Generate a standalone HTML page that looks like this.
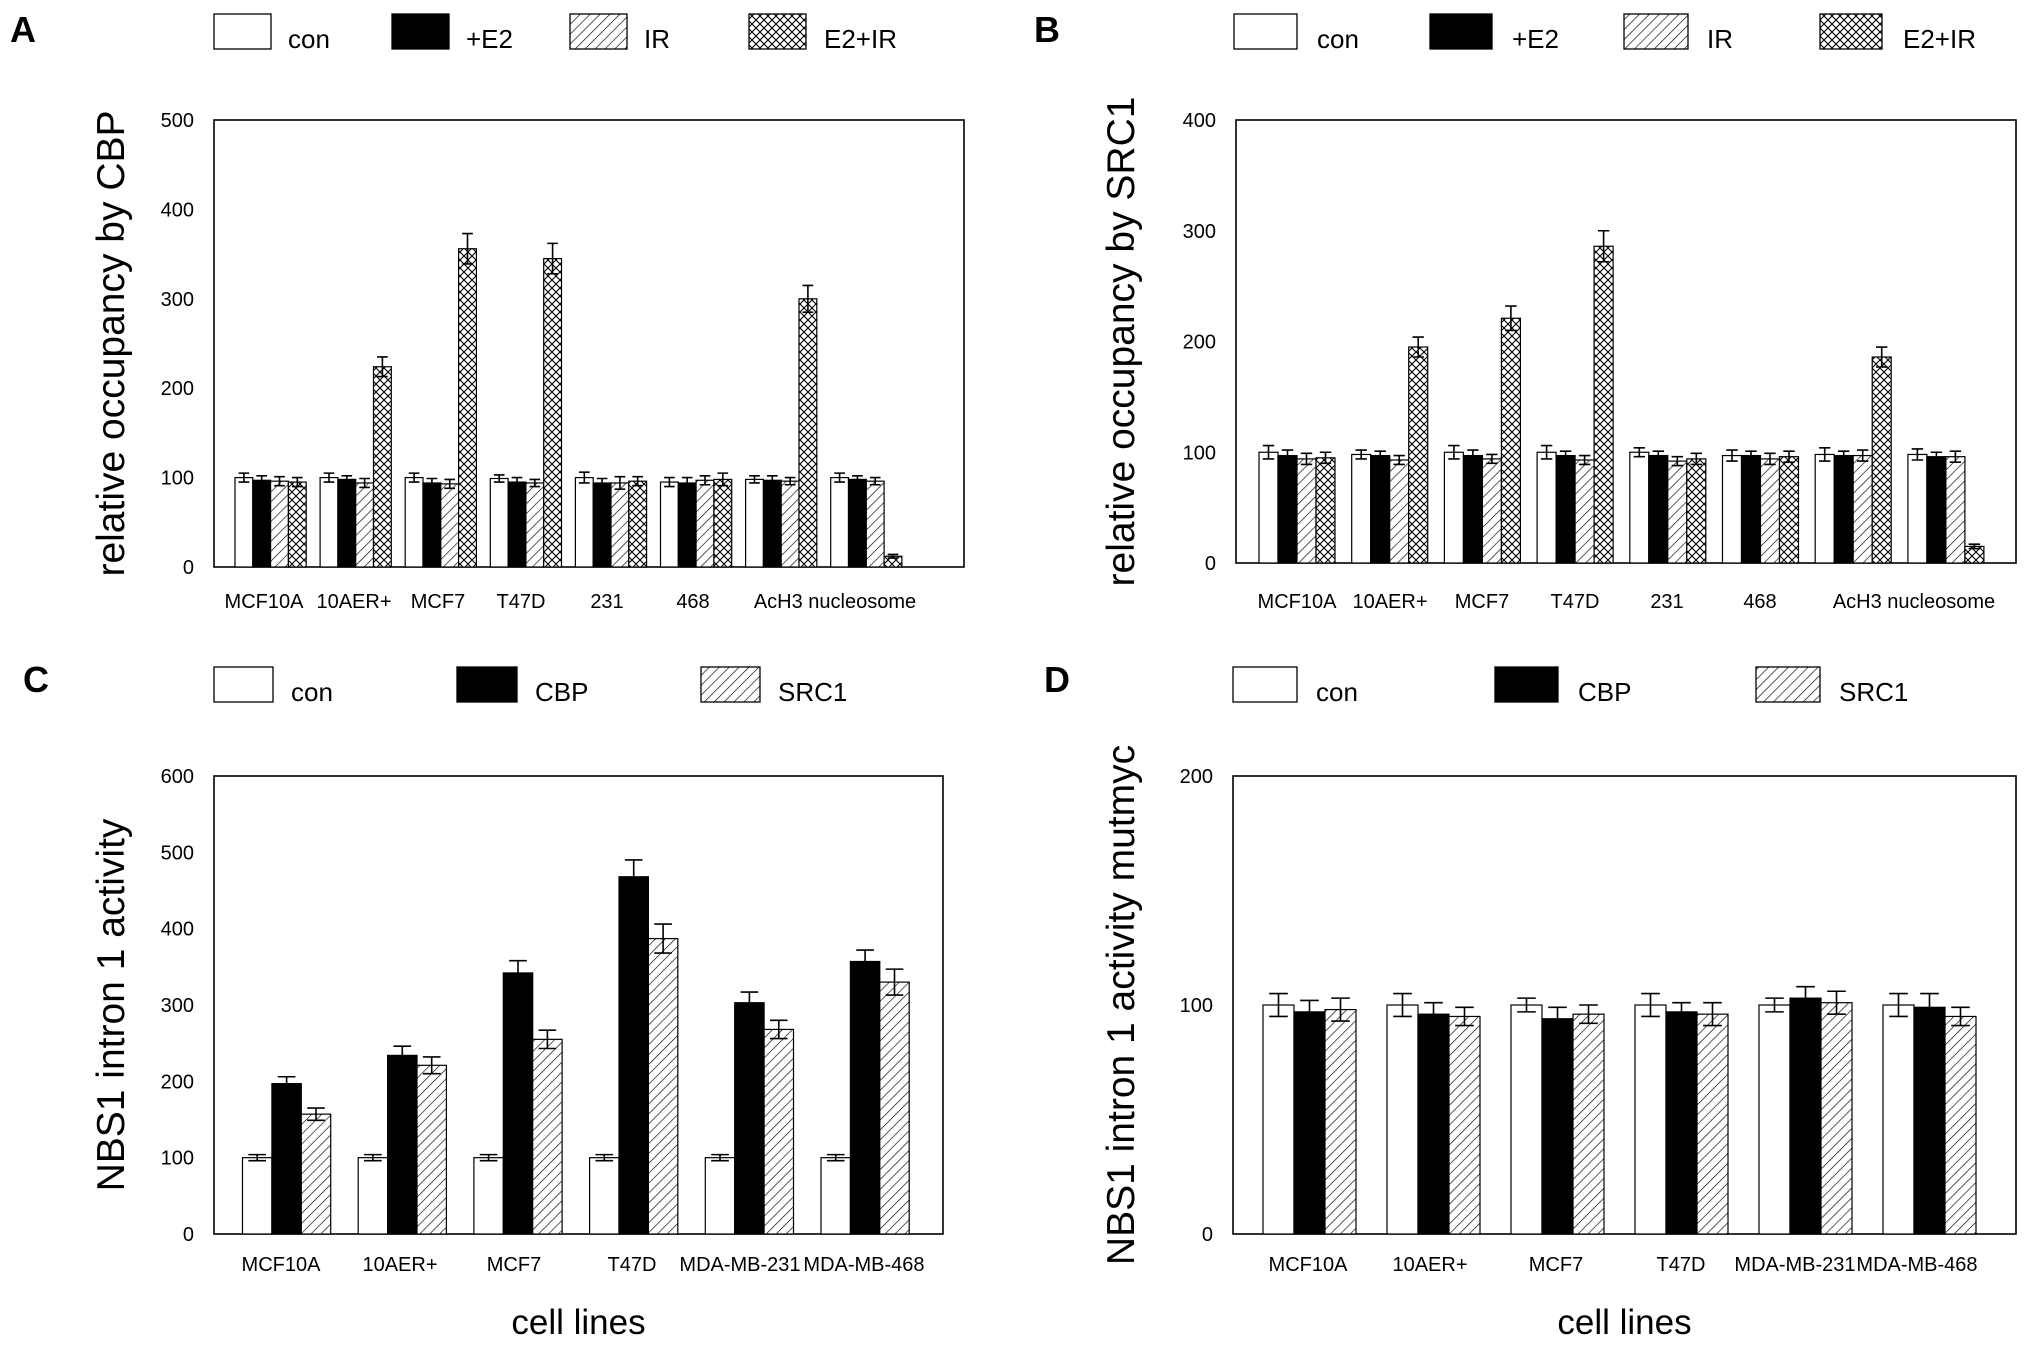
<!DOCTYPE html>
<html><head><meta charset="utf-8"><style>
html,body{margin:0;padding:0;background:#fff}
svg{display:block}
text{font-family:"Liberation Sans",Arial,sans-serif;fill:#000}
.tick{font-size:20px}
.xl{font-size:20px}
.leg{font-size:26px}
.ttl{font-size:39px}
.xt{font-size:35px}
.let{font-size:36px;font-weight:bold}
</style></head><body>
<svg id="fig" width="2031" height="1350" viewBox="0 0 2031 1350">
<defs>
<pattern id="diag" patternUnits="userSpaceOnUse" width="7" height="7" patternTransform="rotate(45)"><rect width="7" height="7" fill="#fff"/><line x1="0" y1="0" x2="0" y2="7" stroke="#000" stroke-width="1.3"/></pattern>
<pattern id="cross" patternUnits="userSpaceOnUse" width="8" height="8"><rect width="8" height="8" fill="#fff"/><path d="M0,0L8,8M8,0L0,8" stroke="#000" stroke-width="1.1"/></pattern>
</defs>
</svg>
<script>
// Panel A data
const catsA = ["MCF10A","10AER+","MCF7","T47D","231","468","AcH3","nucleosome"];
const conA = [100,100,100,99,100,95,98,100];
const e2A = [97,98,94,95,94,94,97,98];
const irA = [96,94,93,94,94,97,96,96];
const e2irA = [95,224,356,345,96,98,300,12];
const errConA = [5,5,5,4,6,5,4,5];
const errE2A = [5,4,5,5,5,6,5,4];
const errIrA = [5,5,5,4,7,5,4,4];
const errE2irA = [5,11,17,17,5,7,15,2];
const ticksA = [0,100,200,300,400,500];
// Panel B data
const conB = [100,98,100,100,100,97,98,98];
const e2B = [97,97,97,97,97,97,97,96];
const irB = [94,93,94,93,92,94,97,96];
const e2irB = [95,195,221,286,94,96,186,15];
const errConB = [6,4,6,6,4,5,6,5];
const errE2B = [5,4,5,4,4,4,4,4];
const errIrB = [5,4,4,4,4,5,5,5];
const errE2irB = [5,9,11,14,5,5,9,2];
const ticksB = [0,100,200,300,400];
// Panel C data
const catsC = ["MCF10A","10AER+","MCF7","T47D","MDA-MB-231","MDA-MB-468"];
const conC = [100,100,100,100,100,100];
const cbpC = [197,234,342,468,303,357];
const srcC = [157,221,255,387,268,330];
const errConC = [4,4,4,4,4,4];
const errCbpC = [9,12,16,22,14,15];
const errSrcC = [8,11,12,19,12,17];
const ticksC = [0,100,200,300,400,500,600];
// Panel D data
const conD = [100,100,100,100,100,100];
const cbpD = [97,96,94,97,103,99];
const srcD = [98,95,96,96,101,95];
const errConD = [5,5,3,5,3,5];
const errCbpD = [5,5,5,4,5,6];
const errSrcD = [5,4,4,5,5,4];
const ticksD = [0,100,200];

const NS="http://www.w3.org/2000/svg";
const svg=document.getElementById('fig');
function mk(tag,attrs,parent){const e=document.createElementNS(NS,tag);for(const k in attrs)e.setAttribute(k,attrs[k]);(parent||svg).appendChild(e);return e;}
const fills={con:"#fff",e2:"#000",ir:"url(#diag)",cross:"url(#cross)"};

function panel(p){
  const g=mk('g',{});
  
  
  const ymap=v=>p.bottom-(v/p.ymax)*(p.bottom-p.top);
  const fr=mk('rect',{x:p.left,y:p.top,width:p.right-p.left,height:p.bottom-p.top,fill:'none',stroke:'#000','stroke-width':1.6},g);
  
  
  p.ticks.forEach(t=>{
    const tx=mk('text',{x:p.left-20,y:ymap(t)+7,'text-anchor':'end',class:'tick'},g);
    tx.textContent=t;
    
    
  });
  p.series.forEach((s,si)=>{
    s.vals.forEach((v,ci)=>{
      const x=p.left+p.off+ci*p.step+si*p.bw;
      const y=ymap(v);
      const r=mk('rect',{x:x,y:y,width:p.bw,height:p.bottom-y,fill:fills[s.fill],stroke:'#000','stroke-width':1.2},g);
      
      
      const e=s.err[ci],cx=x+p.bw/2,y1=ymap(v+e),y2=ymap(Math.max(0,v-e)),hw=p.bw*0.3;
      const eb=mk('path',{d:`M${cx},${y1}V${y2}M${cx-hw},${y1}H${cx+hw}M${cx-hw},${y2}H${cx+hw}`,stroke:'#000','stroke-width':1.6,fill:'none'},g);
      
      
    });
  });
  p.xlabels.forEach((l,i)=>{
    const tx=mk('text',{x:p.xlx[i],y:p.xly,'text-anchor':'middle',class:'xl'},g);
    tx.textContent=l;
    
    
  });
  const yt=mk('text',{x:0,y:0,transform:`translate(${p.ytx},${(p.top+p.bottom)/2}) rotate(-90)`,'text-anchor':'middle',class:'ttl'},g);
  yt.textContent=p.ytitle;
  
  
  if(p.xtitle){
    const xt=mk('text',{x:(p.left+p.right)/2,y:p.bottom+100,'text-anchor':'middle',class:'xt'},g);
    xt.textContent=p.xtitle;
    
    
  }
  const lt=mk('text',{x:p.letx,y:p.lety,class:'let'},g);
  lt.textContent=p.id;
  
  
  p.legend.forEach(L=>{
    const r=mk('rect',{x:L.x,y:p.legy,width:L.w,height:35,fill:fills[L.fill],stroke:'#000','stroke-width':1.3},g);
    
    
    const t=mk('text',{x:L.tx,y:p.legy+34,class:'leg'},g);
    t.textContent=L.label;
    
    
  });
}

panel({id:'A',left:214,right:964,top:120,bottom:567,ymax:500,ticks:ticksA,off:21,step:85.1,bw:17.8,
 series:[{key:'con',fill:'con',vals:conA,err:errConA},{key:'e2',fill:'e2',vals:e2A,err:errE2A},{key:'ir',fill:'ir',vals:irA,err:errIrA},{key:'e2ir',fill:'cross',vals:e2irA,err:errE2irA}],
 xlabels:["MCF10A","10AER+","MCF7","T47D","231","468","AcH3 nucleosome"],xlx:[264,354,438,521,607,693,835],xly:608,
 ytitle:"relative occupancy by CBP",ytx:124,letx:10,lety:42,legy:14,
 legend:[{x:214,w:57,fill:'con',tx:288,label:'con'},{x:392,w:57,fill:'e2',tx:466,label:'+E2'},{x:570,w:57,fill:'ir',tx:644,label:'IR'},{x:749,w:57,fill:'cross',tx:824,label:'E2+IR'}]});
panel({id:'B',left:1236,right:2016,top:120,bottom:563,ymax:400,ticks:ticksB,off:23,step:92.7,bw:19,
 series:[{key:'con',fill:'con',vals:conB,err:errConB},{key:'e2',fill:'e2',vals:e2B,err:errE2B},{key:'ir',fill:'ir',vals:irB,err:errIrB},{key:'e2ir',fill:'cross',vals:e2irB,err:errE2irB}],
 xlabels:["MCF10A","10AER+","MCF7","T47D","231","468","AcH3 nucleosome"],xlx:[1297,1390,1482,1575,1667,1760,1914],xly:608,
 ytitle:"relative occupancy by SRC1",ytx:1134,letx:1034,lety:42,legy:14,
 legend:[{x:1234,w:63,fill:'con',tx:1317,label:'con'},{x:1430,w:62,fill:'e2',tx:1512,label:'+E2'},{x:1624,w:64,fill:'ir',tx:1707,label:'IR'},{x:1820,w:62,fill:'cross',tx:1903,label:'E2+IR'}]});
panel({id:'C',left:214,right:943,top:776,bottom:1234,ymax:600,ticks:ticksC,off:28.5,step:115.7,bw:29.4,
 series:[{key:'con',fill:'con',vals:conC,err:errConC},{key:'cbp',fill:'e2',vals:cbpC,err:errCbpC},{key:'src1',fill:'ir',vals:srcC,err:errSrcC}],
 xlabels:catsC,xlx:[281,400,514,632,740,864],xly:1271,
 ytitle:"NBS1 intron 1 activity",ytx:124,xtitle:"cell lines",letx:23,lety:692,legy:667,
 legend:[{x:214,w:59,fill:'con',tx:291,label:'con'},{x:457,w:60,fill:'e2',tx:535,label:'CBP'},{x:701,w:59,fill:'ir',tx:778,label:'SRC1'}]});
panel({id:'D',left:1233,right:2016,top:776,bottom:1234,ymax:200,ticks:ticksD,off:30,step:124,bw:31,
 series:[{key:'con',fill:'con',vals:conD,err:errConD},{key:'cbp',fill:'e2',vals:cbpD,err:errCbpD},{key:'src1',fill:'ir',vals:srcD,err:errSrcD}],
 xlabels:catsC,xlx:[1308,1430,1556,1681,1795,1917],xly:1271,
 ytitle:"NBS1 intron 1 activity mutmyc",ytx:1134,xtitle:"cell lines",letx:1044,lety:692,legy:667,
 legend:[{x:1233,w:64,fill:'con',tx:1316,label:'con'},{x:1495,w:63,fill:'e2',tx:1578,label:'CBP'},{x:1756,w:64,fill:'ir',tx:1839,label:'SRC1'}]});
</script>
</body></html>
